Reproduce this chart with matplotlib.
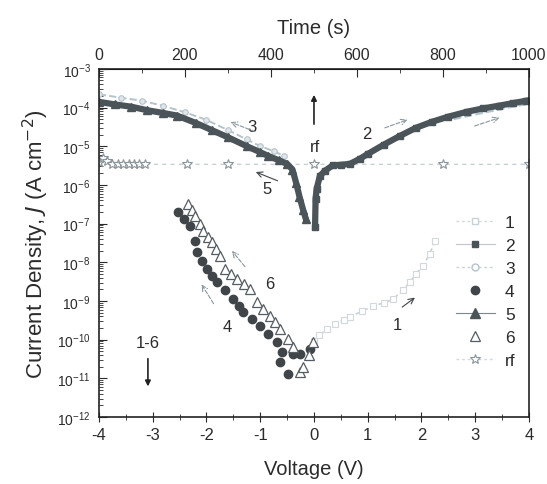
import matplotlib
matplotlib.use('Agg')
import matplotlib.pyplot as plt
from matplotlib.lines import Line2D
from matplotlib.ticker import LogLocator, MultipleLocator, NullFormatter, FixedLocator

plt.rcParams['font.family'] = ['Liberation Sans', 'DejaVu Sans']
plt.rcParams['axes.unicode_minus'] = False

# sweep 1: 0 -> +V, low state, then high state near +4 V
v1 = [0.0, 0.1, 0.24, 0.4, 0.55, 0.67, 0.9, 1.1, 1.3, 1.47, 1.65, 1.79, 1.9, 2.03, 2.15, 2.25]
j1 = [9.3e-11, 1.3e-10, 1.9e-10, 2.6e-10, 3.2e-10, 3.9e-10, 5.5e-10, 7.4e-10, 9.0e-10, 1.1e-9,
      1.9e-9, 3.1e-9, 5.0e-9, 8.1e-9, 1.6e-8, 3.5e-8]
v1_hi = [2.6, 3.0, 3.4, 3.7, 4.0]
j1_hi = [5.0e-5, 6.6e-5, 8.6e-5, 1.05e-4, 1.25e-4]

# sweep 2: high state, positive side
v2 = [0.02, 0.03, 0.05, 0.11, 0.2, 0.35, 0.5, 0.67, 0.85, 1.0, 1.3, 1.6, 1.9, 2.2, 2.5, 2.85,
      3.15, 3.45, 3.7, 3.95]
j2 = [8.0e-8, 4.4e-7, 8.0e-7, 1.7e-6, 2.3e-6, 3.2e-6, 3.3e-6, 3.5e-6, 4.7e-6, 6.3e-6, 1.1e-5,
      1.85e-5, 3.0e-5, 4.3e-5, 5.8e-5, 7.8e-5, 9.5e-5, 1.12e-4, 1.3e-4, 1.5e-4]

# sweep 3: high state, negative side (upper)
v3 = [-4.0, -3.6, -3.2, -2.8, -2.4, -2.0, -1.6, -1.25, -1.0, -0.75, -0.55]
j3 = [2.2e-4, 1.8e-4, 1.5e-4, 1.1e-4, 7.5e-5, 4.8e-5, 2.6e-5, 1.5e-5, 1.0e-5, 7.5e-6, 5.5e-6]

# sweep 4: low state, negative side
v4 = [-2.53, -2.42, -2.31, -2.21, -2.18, -2.08, -1.99, -1.9, -1.8, -1.65, -1.5, -1.4, -1.32,
      -1.15, -1.0, -0.85, -0.69, -0.6, -0.63, -0.48, -0.39, -0.26, -0.07]
j4 = [2.0e-7, 1.3e-7, 8.7e-8, 3.6e-8, 1.9e-8, 1.1e-8, 6.8e-9, 4.5e-9, 3.1e-9, 1.9e-9, 1.1e-9,
      7.5e-10, 5.2e-10, 3.5e-10, 2.3e-10, 1.4e-10, 8.7e-11, 4.8e-11, 2.6e-11, 1.3e-11, 4.3e-11,
      4.3e-11, 5.8e-11]

# sweep 5: negative side, dark band
v5 = [-4.0, -3.7, -3.4, -3.1, -2.8, -2.55, -2.2, -1.9, -1.6, -1.25, -1.0, -0.85, -0.65, -0.5,
      -0.4, -0.33, -0.27, -0.2, -0.15]
j5 = [1.4e-4, 1.2e-4, 1.05e-4, 8.5e-5, 7.2e-5, 6.2e-5, 4.0e-5, 2.6e-5, 1.7e-5, 1.0e-5, 7.0e-6,
      5.6e-6, 4.3e-6, 3.5e-6, 2.5e-6, 1.1e-6, 5.0e-7, 2.2e-7, 1.3e-7]

# sweep 6: low state, negative side (open triangles)
v6 = [-2.34, -2.27, -2.21, -2.13, -2.06, -1.98, -1.9, -1.82, -1.75, -1.66, -1.55, -1.43, -1.3,
      -1.19, -1.06, -0.95, -0.82, -0.72, -0.63, -0.48, -0.39, -0.26, -0.2, -0.1, -0.02]
j6 = [3.2e-7, 2.2e-7, 1.6e-7, 1.0e-7, 6.5e-8, 4.6e-8, 3.4e-8, 2.2e-8, 1.45e-8, 6.8e-9, 5.0e-9,
      3.7e-9, 2.7e-9, 2.0e-9, 9.3e-10, 6.3e-10, 4.1e-10, 2.8e-10, 1.9e-10, 1.05e-10, 6.5e-11,
      1.45e-11, 2.0e-11, 4.0e-11, 8.7e-11]

# retention (rf)
v_rf = [-4.0, -3.92, -3.85, -3.75, -3.65, -3.55, -3.45, -3.35, -3.25, -3.15, -2.36, -1.6, 0.0,
        2.4, 4.0]
j_rf = [4.0e-6, 5.0e-6, 4.2e-6, 3.4e-6, 3.4e-6, 3.4e-6, 3.4e-6, 3.4e-6, 3.4e-6, 3.4e-6, 3.4e-6,
        3.4e-6, 3.4e-6, 3.4e-6, 3.4e-6]

time_ticks = [0, 200, 400, 600, 800, 1000]

dark = '#4b5459'
light = '#c6d0d6'
txt = '#2b2b2b'

fig = plt.figure(figsize=(5.47, 4.85), dpi=100)
ax = fig.add_axes([0.181, 0.138, 0.786, 0.718])

ax.plot(v_rf, j_rf, linestyle=(0, (3, 3)), color='#c9d0d4', lw=1.0, marker='*',
        ms=7, mfc='white', mec='#8a949a', mew=0.8)
ax.plot(v1, j1, linestyle=(0, (3, 2)), color=light, lw=1.2, marker='s', ms=4, mfc='white',
        mec='#d2d9dd', mew=0.8)
ax.plot(v1_hi, j1_hi, linestyle='--', color='#b3c4ce', lw=1.5)
ax.plot(v3, j3, linestyle='--', color='#b5c3cb', lw=1.4, marker='o', ms=4, mfc='#e0e6ea',
        mec='#b5c3cb', mew=0.8)
ax.plot(v5, j5, linestyle='-', color=dark, lw=4.5, marker='^', ms=6, mfc=dark, mec=dark)
ax.plot(v2, j2, linestyle='-', color=dark, lw=4.5, marker='s', ms=5, mfc=dark, mec=dark)
ax.plot(v4, j4, linestyle='none', marker='o', ms=6, mfc='#3f4549', mec='#3f4549')
ax.plot(v6, j6, linestyle='none', marker='^', ms=7, mfc='white', mec='#555d62', mew=0.9)

ax.set_yscale('log')
ax.set_xlim(-4, 4)
ax.set_ylim(1e-12, 1e-3)

ax.xaxis.set_major_locator(MultipleLocator(1))
ax.xaxis.set_minor_locator(MultipleLocator(0.5))
ax.yaxis.set_major_locator(LogLocator(base=10, numticks=20))
ax.yaxis.set_minor_locator(LogLocator(base=10, subs=range(2, 10), numticks=20))
ax.yaxis.set_minor_formatter(NullFormatter())
ax.tick_params(axis='x', which='both', direction='inout', top=False, labelsize=12,
               colors=txt, pad=4)
ax.tick_params(axis='x', which='major', length=7)
ax.tick_params(axis='x', which='minor', length=4)
ax.tick_params(axis='y', which='both', direction='in', right=False, labelsize=10,
               colors=txt, pad=6)
ax.tick_params(axis='y', which='major', length=6)
ax.tick_params(axis='y', which='minor', length=3)
for s in ax.spines.values():
    s.set_color('#222222')
    s.set_linewidth(1.2)

# time axis on top
top = ax.secondary_xaxis('top', functions=(lambda v: (v + 4) * 125, lambda t: t / 125 - 4))
top.xaxis.set_major_locator(FixedLocator(time_ticks))
top.xaxis.set_minor_locator(FixedLocator([100, 300, 500, 700, 900]))
top.tick_params(which='both', direction='in', labelsize=11.5, colors=txt, pad=5)
top.tick_params(which='major', length=6)
top.tick_params(which='minor', length=3)
top.set_xlabel('Time (s)', fontsize=14.5, color=txt, labelpad=10)

ax.set_xlabel('Voltage (V)', fontsize=14.5, color=txt, labelpad=12)
ax.set_ylabel('Current Density, $J$ (A cm$^{-2}$)', fontsize=16, color=txt, labelpad=4)

# sweep labels and direction arrows
ax.text(-1.15, 10**-4.5, '3', fontsize=12, color=txt, ha='center', va='center')
ax.annotate('', xy=(-1.6, 10**-4.35), xytext=(-1.05, 10**-4.65),
            arrowprops=dict(arrowstyle='->', color='#8b979e', lw=0.8, ls='--'))
ax.text(-0.87, 10**-6.1, '5', fontsize=12, color=txt, ha='center', va='center')
ax.annotate('', xy=(-1.13, 10**-5.64), xytext=(-0.63, 10**-5.92),
            arrowprops=dict(arrowstyle='->', color='#3f4549', lw=0.8))
ax.text(0.98, 10**-4.68, '2', fontsize=12, color=txt, ha='center', va='center')
ax.annotate('', xy=(1.79, 10**-4.29), xytext=(1.27, 10**-4.55),
            arrowprops=dict(arrowstyle='->', color='#8b979e', lw=0.8, ls='--'))
ax.annotate('', xy=(3.5, 10**-4.24), xytext=(2.94, 10**-4.5),
            arrowprops=dict(arrowstyle='->', color='#8b979e', lw=0.8, ls='--'))
ax.text(0.02, 10**-5.0, 'rf', fontsize=12, color=txt, ha='center', va='center')
ax.annotate('', xy=(0.0, 10**-3.6), xytext=(0.0, 10**-4.5),
            arrowprops=dict(arrowstyle='-|>', color='#222222', lw=1.2, mutation_scale=8))
ax.text(-0.82, 10**-8.56, '6', fontsize=12, color=txt, ha='center', va='center')
ax.annotate('', xy=(-1.56, 10**-7.65), xytext=(-1.25, 10**-8.17),
            arrowprops=dict(arrowstyle='->', color='#8b979e', lw=0.8, ls='--'))
ax.text(-1.62, 10**-9.65, '4', fontsize=12, color=txt, ha='center', va='center')
ax.annotate('', xy=(-2.12, 10**-8.51), xytext=(-1.84, 10**-9.13),
            arrowprops=dict(arrowstyle='->', color='#8b979e', lw=0.8, ls='--'))
ax.text(1.56, 10**-9.6, '1', fontsize=12, color=txt, ha='center', va='center')
ax.annotate('', xy=(1.92, 10**-8.87), xytext=(1.6, 10**-9.2),
            arrowprops=dict(arrowstyle='->', color='#3f4549', lw=0.8))
ax.text(-3.09, 10**-10.06, '1-6', fontsize=12, color=txt, ha='center', va='center')
ax.annotate('', xy=(-3.09, 10**-11.28), xytext=(-3.09, 10**-10.42),
            arrowprops=dict(arrowstyle='-|>', color='#222222', lw=1.2, mutation_scale=8))

# legend with thin sample lines
handles = [
    Line2D([], [], ls=(0, (2, 2)), color='#d2d9dd', lw=1.0, marker='s', ms=4, mfc='white',
           mec='#c9d2d7'),
    Line2D([], [], ls='-', color='#c0c7cb', lw=0.8, marker='s', ms=5, mfc=dark, mec=dark),
    Line2D([], [], ls=(0, (2, 2)), color='#c9d2d7', lw=1.0, marker='o', ms=5, mfc='white',
           mec='#b5c3cb'),
    Line2D([], [], ls='none', marker='o', ms=6, mfc='#3f4549', mec='#3f4549'),
    Line2D([], [], ls='-', color='#7d868b', lw=0.8, marker='^', ms=7, mfc=dark, mec=dark),
    Line2D([], [], ls='none', marker='^', ms=7, mfc='white', mec='#555d62', mew=0.9),
    Line2D([], [], ls=(0, (2, 2)), color='#d2d9dd', lw=1.0, marker='*', ms=7, mfc='white',
           mec='#8a949a', mew=0.8),
]
labels = ['1', '2', '3', '4', '5', '6', 'rf']
leg = ax.legend(handles, labels, loc='upper left',
                bbox_to_anchor=(0.815, 0.6), frameon=False, fontsize=12.5,
                handlelength=2.2, labelspacing=0.45, handletextpad=0.6,
                borderaxespad=0)
for t in leg.get_texts():
    t.set_color(txt)

fig.savefig('out.png', dpi=100)
